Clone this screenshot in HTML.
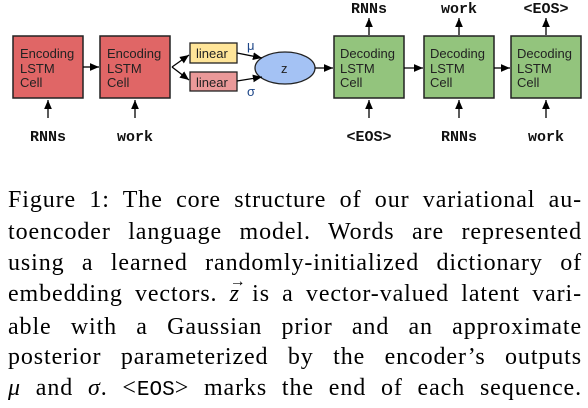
<!DOCTYPE html>
<html><head><meta charset="utf-8"><style>
body{margin:0;width:588px;height:408px;background:#fff;overflow:hidden;position:relative;font-family:"Liberation Sans",sans-serif}
svg{position:absolute;left:0;top:0}
.cap{position:absolute;left:8px;width:574px;font-family:"Liberation Serif",serif;font-size:24px;letter-spacing:0.9px;line-height:31px;text-align:justify;text-align-last:justify;white-space:nowrap;color:#000}
.tt{font-family:"Liberation Mono",monospace;font-size:21px;letter-spacing:0}
.vec{position:relative;display:inline-block}
.vec:before{content:"→";position:absolute;left:0;top:-13px;font-size:16px;font-style:normal}
</style></head><body>
<svg width="588" height="180">
<defs><marker id="ah" markerWidth="8" markerHeight="8" refX="7" refY="4" orient="auto"><path d="M0,1 L7,4 L0,7z" fill="#000"/></marker></defs>
<g font-size="13" fill="#222">
<g><rect x="13" y="36" width="70" height="62" fill="#e06666" stroke="#222" stroke-width="1.5"/><text x="20" y="58">Encoding</text><text x="20" y="73">LSTM</text><text x="20" y="87">Cell</text></g>
<g><rect x="100" y="36" width="70" height="62" fill="#e06666" stroke="#222" stroke-width="1.5"/><text x="107" y="58">Encoding</text><text x="107" y="73">LSTM</text><text x="107" y="87">Cell</text></g>
<g><rect x="190" y="43" width="47" height="20" fill="#ffe599" stroke="#222" stroke-width="1.3"/><text x="196" y="58">linear</text></g>
<g><rect x="190" y="72" width="47" height="19" fill="#ea9999" stroke="#222" stroke-width="1.3"/><text x="196" y="87">linear</text></g>
<g><ellipse cx="285" cy="68" rx="30" ry="16" fill="#a4c2f4" stroke="#222" stroke-width="1.3"/><text x="281" y="73">z</text></g>
<text x="247" y="50" fill="#1c4587">μ</text>
<text x="247" y="96" fill="#1c4587">σ</text>
<g><rect x="334" y="36" width="70" height="62" fill="#93c47d" stroke="#222" stroke-width="1.5"/><text x="340" y="58">Decoding</text><text x="340" y="73">LSTM</text><text x="340" y="87">Cell</text></g>
<g><rect x="424" y="36" width="70" height="62" fill="#93c47d" stroke="#222" stroke-width="1.5"/><text x="430" y="58">Decoding</text><text x="430" y="73">LSTM</text><text x="430" y="87">Cell</text></g>
<g><rect x="511" y="36" width="70" height="62" fill="#93c47d" stroke="#222" stroke-width="1.5"/><text x="517" y="58">Decoding</text><text x="517" y="73">LSTM</text><text x="517" y="87">Cell</text></g>
</g>
<g stroke="#000" stroke-width="1.3" fill="none" marker-end="url(#ah)">
<line x1="83" y1="67" x2="99" y2="67"/>
<line x1="172" y1="67" x2="189" y2="55"/><line x1="172" y1="67" x2="189" y2="80"/>
<line x1="237" y1="53" x2="262" y2="58"/><line x1="237" y1="81" x2="262" y2="77"/>
<line x1="315" y1="68" x2="333" y2="68"/><line x1="404" y1="68" x2="423" y2="68"/><line x1="494" y1="68" x2="510" y2="68"/>
<line x1="48" y1="118" x2="48" y2="100"/><line x1="135" y1="118" x2="135" y2="100"/>
<line x1="369" y1="118" x2="369" y2="100"/><line x1="459" y1="118" x2="459" y2="100"/><line x1="546" y1="118" x2="546" y2="100"/>
<line x1="369" y1="35" x2="369" y2="18"/><line x1="459" y1="35" x2="459" y2="18"/><line x1="546" y1="35" x2="546" y2="18"/>
</g>
<g font-family="Liberation Mono,monospace" font-weight="bold" font-size="15" text-anchor="middle" fill="#111">
<text x="48" y="141">RNNs</text>
<text x="135" y="141">work</text>
<text x="369" y="141">&lt;EOS&gt;</text>
<text x="459" y="141">RNNs</text>
<text x="546" y="141">work</text>
<text x="369" y="13">RNNs</text>
<text x="459" y="13">work</text>
<text x="546" y="13">&lt;EOS&gt;</text>
</g>
</svg>
<div>
<div class="cap" style="top:185px">Figure 1: The core structure of our variational au-</div>
<div class="cap" style="top:217px">toencoder language model. Words are represented</div>
<div class="cap" style="top:248px">using a learned randomly-initialized dictionary of</div>
<div class="cap" style="top:279px">embedding vectors. <i class="vec">z</i> is a vector-valued latent vari-</div>
<div class="cap" style="top:312px">able with a Gaussian prior and an approximate</div>
<div class="cap" style="top:342px">posterior parameterized by the encoder’s outputs</div>
<div class="cap" style="top:373px"><i>μ</i> and <i>σ</i>. &lt;<span class="tt">EOS</span>&gt; marks the end of each sequence.</div>
</div>
</body></html>
